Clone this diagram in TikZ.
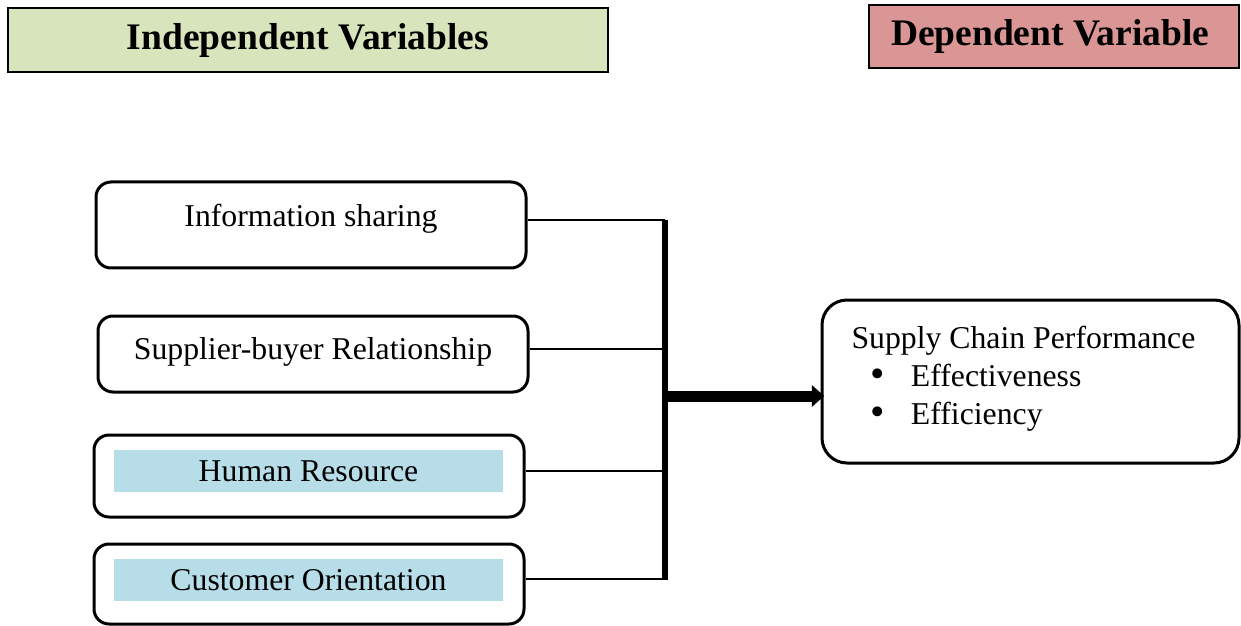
\documentclass[tikz,border=0pt]{standalone}
\usepackage{fontspec}
\setmainfont{Liberation Serif}
\usetikzlibrary{arrows.meta,fit}
\definecolor{indepgreen}{HTML}{D8E4BC}
\definecolor{deprose}{HTML}{DA9694}
\definecolor{varblue}{HTML}{B7DDE8}
\newcommand{\bigbullet}{\hspace*{7.5pt}\smash{\raisebox{-.4pt}{\scalebox{1.3}{\textbullet}}}\hspace{10.5pt}}
\tikzset{>=Stealth,every node/.style={font=\fontsize{12.7}{15.2}\selectfont},
  head/.style={draw,line width=.8pt,inner sep=0pt},
  headtxt/.style={font=\fontsize{15}{18}\selectfont\bfseries},
  varbox/.style={draw,line width=1.2pt,rounded corners=6pt,inner sep=0pt},
  shadebox/.style={fill=varblue,inner sep=0pt},
  link/.style={line width=.8pt},bar/.style={line width=2.4pt}}

\begin{document}
\begin{tikzpicture}[x=.4pt,y=-.4pt]
\useasboundingbox (0,0) rectangle (1241,626);
% headings
\node[head,fill=indepgreen,fit={(8,8)(608,72)}] (indep) {};\node[headtxt] (indeptxt) at (indep.center) {Independent Variables};
\node[head,fill=deprose,fit={(869,5)(1239,68)}] (dep) {};\node[headtxt] (deptxt) at ([xshift=-1.5pt]dep.center) {Dependent Variable};
% independent variables
\node[varbox,fit={(96,182)(526,268)}] (info) {};\node (infotxt) at (311,219) {Information sharing};
\node[varbox,fit={(98,316)(528,392)}] (supp) {};\node (supptxt) at (313,352) {Supplier-buyer Relationship};
\node[varbox,fit={(94,435)(524,517)}] (human) {};\node[shadebox,fit={(114,450)(503,492)}] (humanshade) {};
\node (humantxt) at (humanshade.center) {Human Resource};
\node[varbox,fit={(94,544)(524,624)}] (cust) {};\node[shadebox,fit={(114,559)(503,601)}] (custshade) {};
\node (custtxt) at (custshade.center) {Customer Orientation};
% dependent variable
\node[varbox,rounded corners=10pt,fit={(822,300)(1239,463)}] (perf) {};
\node[anchor=north west,inner sep=0pt,align=left] (perftxt) at (851,326) {Supply Chain Performance\\\bigbullet Effectiveness\\\bigbullet Efficiency};
% links
\coordinate (bartop) at (665,220);\coordinate (barbot) at (665,580);\coordinate (hub) at (665,396);
\draw[bar] (bartop) -- (barbot);
\foreach \b in {info,supp,human,cust}{\draw[link] ([yshift=2pt]\b.east) -- ([yshift=2pt]\b.east -| bartop);}
\draw[line width=4.4pt,-{Triangle[length=5pt,width=8.5pt]}] (hub) -- ([xshift=1.5pt]hub -| perf.west);
\end{tikzpicture}
\end{document}
